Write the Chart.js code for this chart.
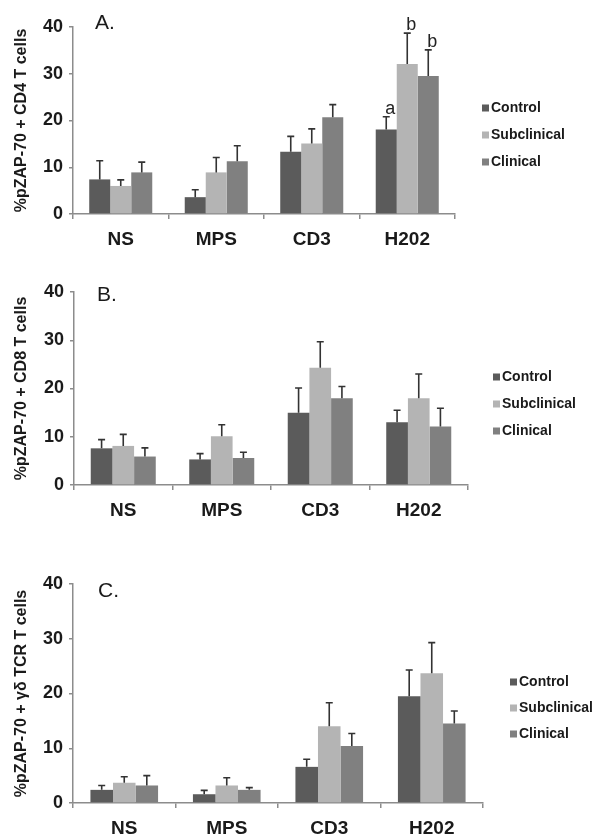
<!DOCTYPE html>
<html>
<head>
<meta charset="utf-8">
<script src="https://cdn.jsdelivr.net/npm/chart.js@4.4.0/dist/chart.umd.min.js"></script>
<style>
html, body { margin: 0; padding: 0; background: #fff; }
#wrap { position: relative; width: 600px; height: 839px; }
canvas { position: absolute; left: 0; }
</style>
</head>
<body>
<div id="wrap">
  <canvas id="cd4Chart" width="600" height="262" style="top:0px"></canvas>
  <canvas id="cd8Chart" width="600" height="265" style="top:265px"></canvas>
  <canvas id="gdChart" width="600" height="282" style="top:557px"></canvas>
</div>
<script>
// categories and groups
const categories = ["NS", "MPS", "CD3", "H202"];
const seriesNames = ["Control", "Subclinical", "Clinical"];
const yTicks = [0, 10, 20, 30, 40];

// Panel A - CD4 T cells (mean and upper error)
const cd4Control = [7.4, 3.6, 13.3, 18.1];
const cd4ControlErr = [4.0, 1.6, 3.3, 2.7];
const cd4Subclinical = [6.0, 8.9, 15.1, 32.1];
const cd4SubclinicalErr = [1.3, 3.2, 3.1, 6.6];
const cd4Clinical = [8.9, 11.3, 20.7, 29.5];
const cd4ClinicalErr = [2.2, 3.3, 2.7, 5.6];
const cd4Notes = [["", "", "", "a"], ["", "", "", "b"], ["", "", "", "b"]];

// Panel B - CD8 T cells
const cd8Control = [7.6, 5.3, 15.0, 13.0];
const cd8ControlErr = [1.8, 1.2, 5.1, 2.5];
const cd8Subclinical = [8.1, 10.1, 24.3, 18.0];
const cd8SubclinicalErr = [2.4, 2.4, 5.4, 5.0];
const cd8Clinical = [5.9, 5.6, 18.0, 12.1];
const cd8ClinicalErr = [1.8, 1.2, 2.4, 3.8];

// Panel C - gamma delta TCR T cells
const gdControl = [2.4, 1.6, 6.6, 19.5];
const gdControlErr = [0.8, 0.7, 1.4, 4.8];
const gdSubclinical = [3.7, 3.2, 14.0, 23.7];
const gdSubclinicalErr = [1.1, 1.4, 4.3, 5.6];
const gdClinical = [3.2, 2.4, 10.4, 14.5];
const gdClinicalErr = [1.8, 0.4, 2.3, 2.3];

const colors = ["#5b5b5b", "#b4b4b4", "#808080"];
const FONT = "'Liberation Sans', Arial, sans-serif";
const AXIS = "#8c8c8c";
const TEXT = "#1a1a1a";

// error bars (upper only) + significance letters
const errorBars = {
    id: "errorBars",
    afterDatasetsDraw(chart) {
        const ctx = chart.ctx;
        const y = chart.scales.y;
        chart.data.datasets.forEach((ds, i) => {
            const meta = chart.getDatasetMeta(i);
            meta.data.forEach((bar, j) => {
                const top = y.getPixelForValue(ds.data[j] + ds.err[j]);
                ctx.save();
                ctx.strokeStyle = "#333";
                ctx.lineWidth = 1.6;
                ctx.beginPath();
                ctx.moveTo(bar.x, bar.y);
                ctx.lineTo(bar.x, top);
                ctx.moveTo(bar.x - 3.5, top);
                ctx.lineTo(bar.x + 3.5, top);
                ctx.stroke();
                if (ds.notes && ds.notes[j]) {
                    ctx.fillStyle = "#222";
                    ctx.font = "18px " + FONT;
                    ctx.textAlign = "center";
                    ctx.textBaseline = "bottom";
                    ctx.fillText(ds.notes[j], bar.x + 4, top + 1);
                }
                ctx.restore();
            });
        });
    }
};

// legend to the right of the plot
const sideLegend = {
    id: "sideLegend",
    afterDraw(chart, args, opts) {
        const ctx = chart.ctx;
        ctx.save();
        chart.data.datasets.forEach((ds, i) => {
            const cy = opts.y + i * opts.gap;
            ctx.fillStyle = ds.backgroundColor;
            ctx.fillRect(opts.x, cy - 3.5, 7, 7);
            ctx.fillStyle = TEXT;
            ctx.font = "bold 14px " + FONT;
            ctx.textAlign = "left";
            ctx.textBaseline = "middle";
            ctx.fillText(ds.label, opts.x + 9, cy);
        });
        ctx.restore();
    }
};

// panel letter (A., B., C.)
const panelLetter = {
    id: "panelLetter",
    afterDraw(chart, args, opts) {
        const ctx = chart.ctx;
        ctx.save();
        ctx.fillStyle = TEXT;
        ctx.font = "21px " + FONT;
        ctx.textBaseline = "alphabetic";
        ctx.fillText(opts.text, opts.x, opts.y);
        ctx.restore();
    }
};

function makePanel(id, values, errs, notes, yTitle, box) {
    const canvas = document.getElementById(id);
    const H = canvas.height;
    return new Chart(canvas, {
        type: "bar",
        data: {
            labels: categories,
            datasets: seriesNames.map((name, i) => ({
                label: name,
                data: values[i],
                err: errs[i],
                notes: notes ? notes[i] : null,
                backgroundColor: colors[i],
                borderWidth: 0,
                categoryPercentage: 0.66,
                barPercentage: 1.0,
            })),
        },
        options: {
            responsive: false,
            animation: false,
            layout: { padding: { left: 0, right: 600 - box.right, top: box.top, bottom: 0 } },
            plugins: {
                legend: { display: false },
                tooltip: { enabled: false },
                sideLegend: { x: box.legendX, y: box.legendY, gap: box.legendGap },
                panelLetter: { text: box.letter, x: box.letterX, y: box.letterY },
            },
            scales: {
                x: {
                    grid: { drawOnChartArea: false, tickLength: 5, color: AXIS, lineWidth: 1.5 },
                    border: { color: AXIS, width: 1.5 },
                    ticks: { font: { family: FONT, weight: "bold", size: 19 }, color: TEXT, padding: 9 },
                    afterFit(s) { s.height = H - box.bottom; },
                },
                y: {
                    min: yTicks[0],
                    max: yTicks[yTicks.length - 1],
                    ticks: { stepSize: 10, font: { family: FONT, weight: "bold", size: 18 }, color: TEXT, padding: 6 },
                    grid: { drawOnChartArea: false, tickLength: 4, color: AXIS, lineWidth: 1.5 },
                    border: { color: AXIS, width: 1.5 },
                    title: {
                        display: true,
                        text: yTitle,
                        font: { family: FONT, weight: "bold", size: 16 },
                        color: TEXT,
                        padding: { top: 12, bottom: 0 },
                    },
                    afterFit(s) { s.width = box.left; },
                },
            },
        },
        plugins: [errorBars, sideLegend, panelLetter],
    });
}

makePanel("cd4Chart",
    [cd4Control, cd4Subclinical, cd4Clinical],
    [cd4ControlErr, cd4SubclinicalErr, cd4ClinicalErr],
    cd4Notes,
    "%pZAP-70 + CD4 T cells",
    { left: 73, right: 455, top: 27, bottom: 214, letter: "A.", letterX: 95, letterY: 29,
      legendX: 482, legendY: 108, legendGap: 27 });

makePanel("cd8Chart",
    [cd8Control, cd8Subclinical, cd8Clinical],
    [cd8ControlErr, cd8SubclinicalErr, cd8ClinicalErr],
    null,
    "%pZAP-70 + CD8 T cells",
    { left: 74, right: 468, top: 27, bottom: 220, letter: "B.", letterX: 97, letterY: 36,
      legendX: 493, legendY: 112, legendGap: 27 });

makePanel("gdChart",
    [gdControl, gdSubclinical, gdClinical],
    [gdControlErr, gdSubclinicalErr, gdClinicalErr],
    null,
    "%pZAP-70 + γδ TCR T cells",
    { left: 73, right: 483, top: 27, bottom: 246, letter: "C.", letterX: 98, letterY: 40,
      legendX: 510, legendY: 125, legendGap: 26 });
</script>
</body>
</html>
